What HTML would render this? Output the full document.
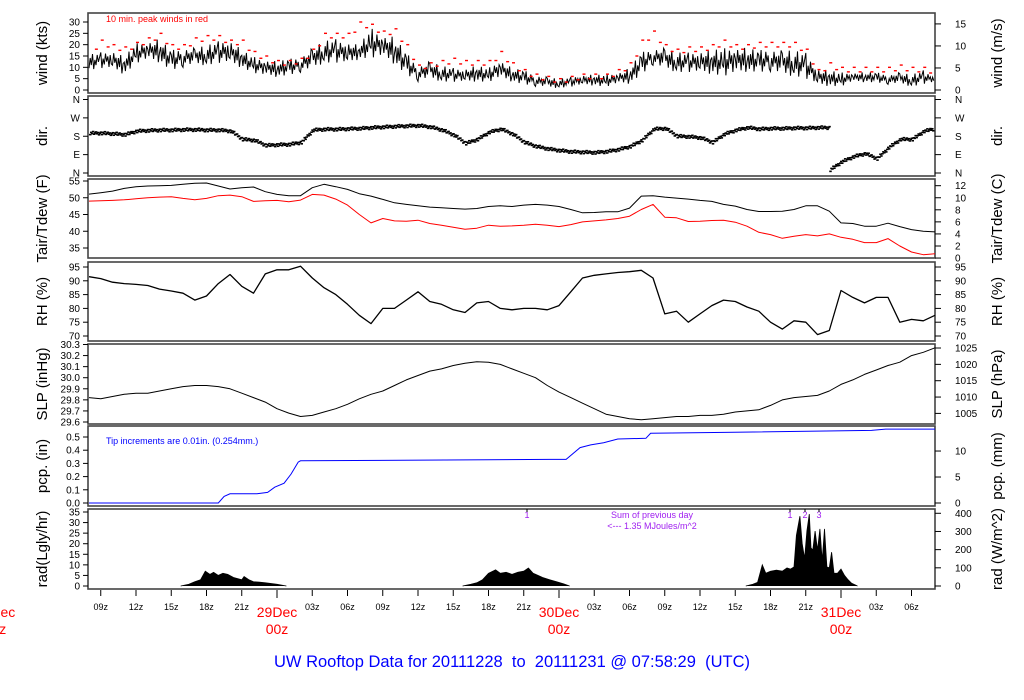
<!DOCTYPE html>
<html><head><meta charset="utf-8">
<style>
html,body{margin:0;padding:0;background:#fff;width:1024px;height:700px;overflow:hidden;}
svg{display:block;font-family:"Liberation Sans",sans-serif;}
</style></head>
<body>
<svg id="chart" width="1024" height="700" viewBox="0 0 1024 700" xmlns="http://www.w3.org/2000/svg">
<text x="512" y="667" text-anchor="middle" font-size="16.5" fill="#0000ff" xml:space="preserve">UW Rooftop Data for 20111228  to  20111231 @ 07:58:29  (UTC)</text>
</svg>
<script>
// ---- data (hourly from hour 8 of 28 Dec, hours counted from 28Dec 00z) ----
const startHour = 8;
const windLo = [8,9,8,6,11,12,11,8,9,10,10,11,10,9,7,5,5,6,7,8,11,11,10,13,13,13,10,6,3,4,3,3,2.5,3,3,4,3,2,1,0.5,0.5,1,1.5,1.5,1,2,2,6,10,8,7,7,6,6,5,5,7,7,7,5,5,4,1,1,1,3,3,3,2,2,1,2,3];
const windHi = [16,17,18,15,21,22,23,18,19,19,20,22,23,18,15,14,13,14,15,19,22,23,22,20,28,25,24,17,11,13,11,10,10,11,10,14,10,9,7,6,5,6,7,7,7,8,10,17,19,19,17,17,18,18,19,20,19,18,19,18,18,17,10,9,8,8,8,8,7,8,7,9,6];
const windGust = [18,22,20,19,21,23,25,20,20,23,24,24,22,22,17,15,13,13,14,18,25,25,25,30,29,26,27,20,11,12,13,14,13,13,13,17,12,9,7,6,5,6,7,7,7,9,12,22,26,20,18,19,19,20,22,20,20,21,21,21,21,18,9,12,10,10,10,10,10,11,10,10,9];
const windDir = [195,195,192,188,205,208,210,210,212,212,210,210,205,165,160,135,138,140,150,210,214,214,216,218,222,225,228,230,232,225,210,185,145,165,200,215,190,150,130,118,110,104,102,100,105,115,130,160,215,218,180,178,172,150,190,210,222,215,218,218,220,220,222,15,55,80,95,70,125,165,165,205,218];
const tair = [51.1,51.5,52,52.8,53.3,53.5,53.6,53.7,54,54.3,54.4,53.5,52.6,53,53.2,51.8,51,50.6,50.6,53,54,53.3,52.5,51.2,50.5,49.5,48.5,48,47.6,47.2,47,46.8,46.6,46.8,47.4,47.6,47.4,47.8,48,47.8,47.4,46.5,45.5,45.6,45.8,45.8,46.9,50.5,50.6,50.2,49.9,49.6,49.2,48.9,48,47.5,46.5,45.9,45.9,46,46.5,47.6,47.6,46,42.5,42.3,41.5,41.5,42.4,41.4,40.5,40,39.8];
const tdew = [49,49.1,49.2,49.4,49.7,50,50.2,50.3,49.8,49.4,49.8,50.6,50.8,50.3,48.9,49.1,49.2,48.8,49.3,51,50.8,49.6,47.8,45,42.5,43.8,43.1,43,43.3,42.3,41.8,41.2,40.6,40.9,41.8,41.5,41.6,41.8,42.1,41.8,41.4,42,42.8,43.1,43.4,43.8,44.5,46.5,48,44.2,44,42.9,43,43.2,43.3,42.7,41.5,39.7,39,37.9,38.5,39,38.6,39.2,38.2,37.6,36.6,36.6,37.8,35.6,33.8,33,33.3];
const rh = [91.5,90.8,89.5,89,88.7,88.3,87,86.3,85.5,83,84.5,89,92.3,88,85.5,92.5,94,94,95.3,91,87.5,85,81.5,77.5,74.5,80,80,83,86,82.5,81.5,79.5,78.5,82,82.5,80,79.5,80,80,79.5,81,86,91,92,92.5,93,93.3,93.8,91,78,79,75,78,81,83,82.5,80.5,79,75,72.5,75.5,75,70.5,72,86.5,84,82,84,84,75,76,75.5,77.5];
const slp = [29.82,29.81,29.83,29.85,29.86,29.86,29.88,29.9,29.92,29.93,29.93,29.92,29.9,29.86,29.82,29.78,29.72,29.68,29.65,29.66,29.69,29.72,29.76,29.81,29.85,29.88,29.93,29.98,30.02,30.06,30.08,30.11,30.13,30.145,30.14,30.12,30.08,30.04,30.0,29.93,29.87,29.82,29.77,29.72,29.67,29.65,29.63,29.62,29.63,29.64,29.65,29.65,29.66,29.66,29.67,29.69,29.7,29.71,29.75,29.8,29.82,29.83,29.84,29.88,29.94,29.98,30.03,30.07,30.11,30.14,30.2,30.23,30.27];
const pcpTime = [8,19,19.5,20,22.3,23.2,23.8,24.6,25.2,25.8,26,47.2,48.6,49.8,50.7,51.8,53,55.4,55.8,62.1,74.6,75.8,80.6];
const pcpVal  = [0,0,0.05,0.07,0.07,0.08,0.12,0.15,0.22,0.31,0.32,0.33,0.33,0.42,0.44,0.457,0.485,0.49,0.528,0.535,0.55,0.56,0.56];
const radTime = [15.8,16.5,17,17.5,17.9,18.3,18.6,19,19.4,19.8,20.3,21,21.2,21.6,22,22.5,23,24,24.8,
                 39.8,40.5,41,41.5,42,42.6,43,43.5,44,44.5,45,45.4,45.8,46.2,46.6,47.2,47.8,48.4,48.9,
                 63.9,64.5,64.9,65.3,65.6,66,66.5,67,67.4,67.7,68,68.2,68.5,68.7,68.9,69.1,69.3,69.45,69.6,69.8,70,70.2,70.4,70.6,70.8,71,71.2,71.4,71.7,72,72.3,72.6,72.9,73.4];
const radVal  = [0,0.8,2,3,7,5.5,6.5,5,6,5.5,4,3,4.5,3,2,1.8,1.5,0.8,0,
                 0,0.8,1.5,3,6,7.6,6,6.5,5.5,6.5,7,8.5,6,5,4,3,2,1,0,
                 0,0.8,1.7,10,6,7,7.5,7,8.5,8,9,24,33,20,13,26,34,18,17,26,17,27,12,27,9,8.6,16,6,6,8,5,3,1.3,0];
const hourTicks = [9,12,15,18,21,27,30,33,36,39,42,45,51,54,57,60,63,66,69,75,78];
const hourTickLabels = ["09z","12z","15z","18z","21z","03z","06z","09z","12z","15z","18z","21z","03z","06z","09z","12z","15z","18z","21z","03z","06z"];
const dayTicks = [0,24,48,72];
const dayLabels = ["28Dec","29Dec","30Dec","31Dec"];

// ---- layout ----
const svg = document.getElementById('chart');
const NS = 'http://www.w3.org/2000/svg';
const X0 = 88, X1 = 935;
function xh(h){ return -5 + h*11.75; }
function mk(tag, attrs, parent){ const e=document.createElementNS(NS,tag); for(const k in attrs) e.setAttribute(k,attrs[k]); (parent||svg).appendChild(e); return e; }
function txt(s, x, y, size, fill, anchor, parent){ const t=mk('text',{x:x,y:y,'font-size':size,fill:fill,'text-anchor':anchor||'start'},parent); t.textContent=s; return t; }
function lin(a0,a1,p0,p1){ return v => p0 + (v-a0)*(p1-p0)/(a1-a0); }

const panels = [
 {name:'wind', top:13, bot:93, y:lin(0,30,90,22), lt:'wind (kts)', rt:'wind (m/s)'},
 {name:'dir', top:96, bot:176, y:lin(0,360,173,99.5), lt:'dir.', rt:'dir.'},
 {name:'temp', top:179, bot:258, y:lin(35,55,248,181), lt:'Tair/Tdew (F)', rt:'Tair/Tdew (C)'},
 {name:'rh', top:262, bot:341, y:lin(70,95,336,267), lt:'RH (%)', rt:'RH (%)'},
 {name:'slp', top:344, bot:424, y:lin(29.6,30.3,422,344.5), lt:'SLP (inHg)', rt:'SLP (hPa)'},
 {name:'pcp', top:426, bot:506, y:lin(0,0.5,503,437), lt:'pcp. (in)', rt:'pcp. (mm)'},
 {name:'rad', top:509, bot:589, y:lin(0,35,586,512), lt:'rad(Lgly/hr)', rt:'rad (W/m^2)'}
];
const P = {}; panels.forEach(p=>P[p.name]=p);

function leftTicks(p, vals, labels){
  const g=mk('g',{});
  
  
  vals.forEach((v,i)=>{ const y=p.y(v); mk('line',{x1:X0-5,x2:X0,y1:y,y2:y,stroke:'#000','stroke-width':1},g); txt(labels[i],X0-8,y+3.5,10,'#000','end',g); });
}
function rightTicks(p, vals, labels, conv){
  const g=mk('g',{});
  
  
  vals.forEach((v,i)=>{ const y=p.y(conv(v)); mk('line',{x1:X1,x2:X1+6,y1:y,y2:y,stroke:'#000','stroke-width':1},g); txt(labels[i],X1+20,y+3.5,10,'#000','start',g); });
}

// frames & titles
panels.forEach(p=>{
  const r=mk('rect',{x:X0,y:p.top,width:X1-X0,height:p.bot-p.top,fill:'none',stroke:'#444','stroke-width':1.6});
  
  
  const cy=(p.top+p.bot)/2;
  const lt=txt(p.lt,0,0,15,'#000','middle'); lt.setAttribute('transform',`translate(47,${cy}) rotate(-90)`);
  
  
  const rt=txt(p.rt,0,0,15,'#000','middle'); rt.setAttribute('transform',`translate(1002,${cy}) rotate(-90)`);
  
  
});

leftTicks(P.wind,[0,5,10,15,20,25,30],['0','5','10','15','20','25','30']);
rightTicks(P.wind,[0,5,10,15],['0','5','10','15'],v=>v*1.9438);
leftTicks(P.dir,[360,270,180,90,0],['N','W','S','E','N']);
rightTicks(P.dir,[360,270,180,90,0],['N','W','S','E','N'],v=>v);
leftTicks(P.temp,[35,40,45,50,55],['35','40','45','50','55']);
rightTicks(P.temp,[0,2,4,6,8,10,12],['0','2','4','6','8','10','12'],v=>v*1.8+32);
leftTicks(P.rh,[70,75,80,85,90,95],['70','75','80','85','90','95']);
rightTicks(P.rh,[70,75,80,85,90,95],['70','75','80','85','90','95'],v=>v);
leftTicks(P.slp,[29.6,29.7,29.8,29.9,30.0,30.1,30.2,30.3],['29.6','29.7','29.8','29.9','30.0','30.1','30.2','30.3']);
rightTicks(P.slp,[1005,1010,1015,1020,1025],['1005','1010','1015','1020','1025'],v=>v*0.02953);
leftTicks(P.pcp,[0,0.1,0.2,0.3,0.4,0.5],['0.0','0.1','0.2','0.3','0.4','0.5']);
rightTicks(P.pcp,[0,5,10],['0','5','10'],v=>v/25.4);
leftTicks(P.rad,[0,5,10,15,20,25,30,35],['0','5','10','15','20','25','30','35']);
rightTicks(P.rad,[0,100,200,300,400],['0','100','200','300','400'],v=>v/11.63);

const hours = windLo.map((_,i)=>startHour+i);
function poly(vals, p, color, w, name){
  const pts = vals.map((v,i)=>xh(hours[i]).toFixed(1)+','+p.y(v).toFixed(1)).join(' ');
  const e=mk('polyline',{points:pts,fill:'none',stroke:color,'stroke-width':w,'stroke-linejoin':'round'});
  
  
}

// wind zigzag between hourly lo & hi
(function(){
  const N=10, pts=[];
  const frac=[0.2,0.75,0.35,0.95,0.1,0.6,0.3,0.85,0.45,0.7];
  for(let i=0;i<windLo.length-1;i++){
    for(let k=0;k<N;k++){
      const f=k/N, h=hours[i]+f;
      const lo=windLo[i]+(windLo[i+1]-windLo[i])*f, hi=windHi[i]+(windHi[i+1]-windHi[i])*f;
      const v = lo+(hi-lo)*frac[(k+i*3)%N];
      if(xh(h)>=X0 && xh(h)<=X1) pts.push(xh(h).toFixed(1)+','+P.wind.y(v).toFixed(1));
    }
  }
  const e=mk('polyline',{points:pts.join(' '),fill:'none',stroke:'#000','stroke-width':1});
  
  
  const g=mk('g',{});
  
  
  windGust.forEach((v,i)=>{
    [0,0.5].forEach(dh=>{
      const x=xh(hours[i]+dh); if(x<X0+2||x>X1-3) return;
      const gv = dh===0 ? v : (v+(windGust[i+1]!==undefined?windGust[i+1]:v))/2 - 2;
      mk('rect',{x:x,y:P.wind.y(gv)-0.7,width:3,height:1.4,fill:'#ff0000'},g);
    });
  });
  txt('10 min. peak winds in red',106,22,9,'#ff0000','start');
})();

// direction dots
(function(){
  const g=mk('g',{});
  
  
  const off=[-7,4,-2,8,-5,1,6,-3,3,-8,0,5];
  for(let i=0;i<windDir.length;i++){
    for(let k=0;k<12;k++){
      const f=k/12, h=hours[i]+f; const x=xh(h); if(x<X0+1||x>X1-2) continue;
      let d1=windDir[i], d2=windDir[i+1]!==undefined?windDir[i+1]:d1;
      if(Math.abs(d2-d1)>150) d2=d1;
      const d=d1+(d2-d1)*f+off[k];
      mk('rect',{x:x,y:P.dir.y(d)-0.8,width:2.5,height:1.6,fill:'#000'},g);
    }
  }
})();

poly(tair,P.temp,'#000',1,'air-temperature-line');
poly(tdew,P.temp,'#ff0000',1,'dewpoint-line');
poly(rh,P.rh,'#000',1.3,'relative-humidity-line');
poly(slp,P.slp,'#000',1,'sea-level-pressure-line');

// precipitation step
(function(){
  const pts=pcpTime.map((t,i)=>Math.min(X1,xh(t)).toFixed(1)+','+P.pcp.y(pcpVal[i]).toFixed(1)).join(' ');
  const e=mk('polyline',{points:pts,fill:'none',stroke:'#0000ff','stroke-width':1});
  
  
  txt('Tip increments are 0.01in. (0.254mm.)',106,444,9,'#0000ff','start');
})();

// radiation area
(function(){
  let d='';
  radTime.forEach((t,i)=>{
    const x=xh(t).toFixed(1), y=P.rad.y(radVal[i]).toFixed(1);
    if(i===0 || (radVal[i]===0 && radTime[i]-radTime[i-1]>3)) d+=`M${x},${P.rad.y(0)} `;
    d+=`L${x},${y} `;
  });
  const e=mk('path',{d:d,fill:'#000',stroke:'#000','stroke-width':0.8});
  
  
  const purple='#a020f0';
  [[527,'1'],[790,'1'],[805,'2'],[819,'3']].forEach(a=>{ txt(a[1],a[0],518,9,purple,'middle'); mk('line',{x1:a[0],x2:a[0],y1:509,y2:512,stroke:'#000'}); });
  txt('Sum of previous day',652,518,9,purple,'middle');
  txt('<--- 1.35 MJoules/m^2',652,529,9,purple,'middle');
})();

// time axis
(function(){
  const g=mk('g',{});
  
  
  hourTicks.forEach((h,i)=>{ const x=xh(h); mk('line',{x1:x,x2:x,y1:590,y2:596,stroke:'#000'},g); txt(hourTickLabels[i],x,610,9,'#000','middle',g); });
  dayTicks.forEach((h,i)=>{ const x=xh(h); mk('line',{x1:x,x2:x,y1:590,y2:598,stroke:'#000'},g); txt(dayLabels[i],x,617,14,'#ff0000','middle',g); txt('00z',x,634,14,'#ff0000','middle',g); });
})();
</script>
</body></html>
